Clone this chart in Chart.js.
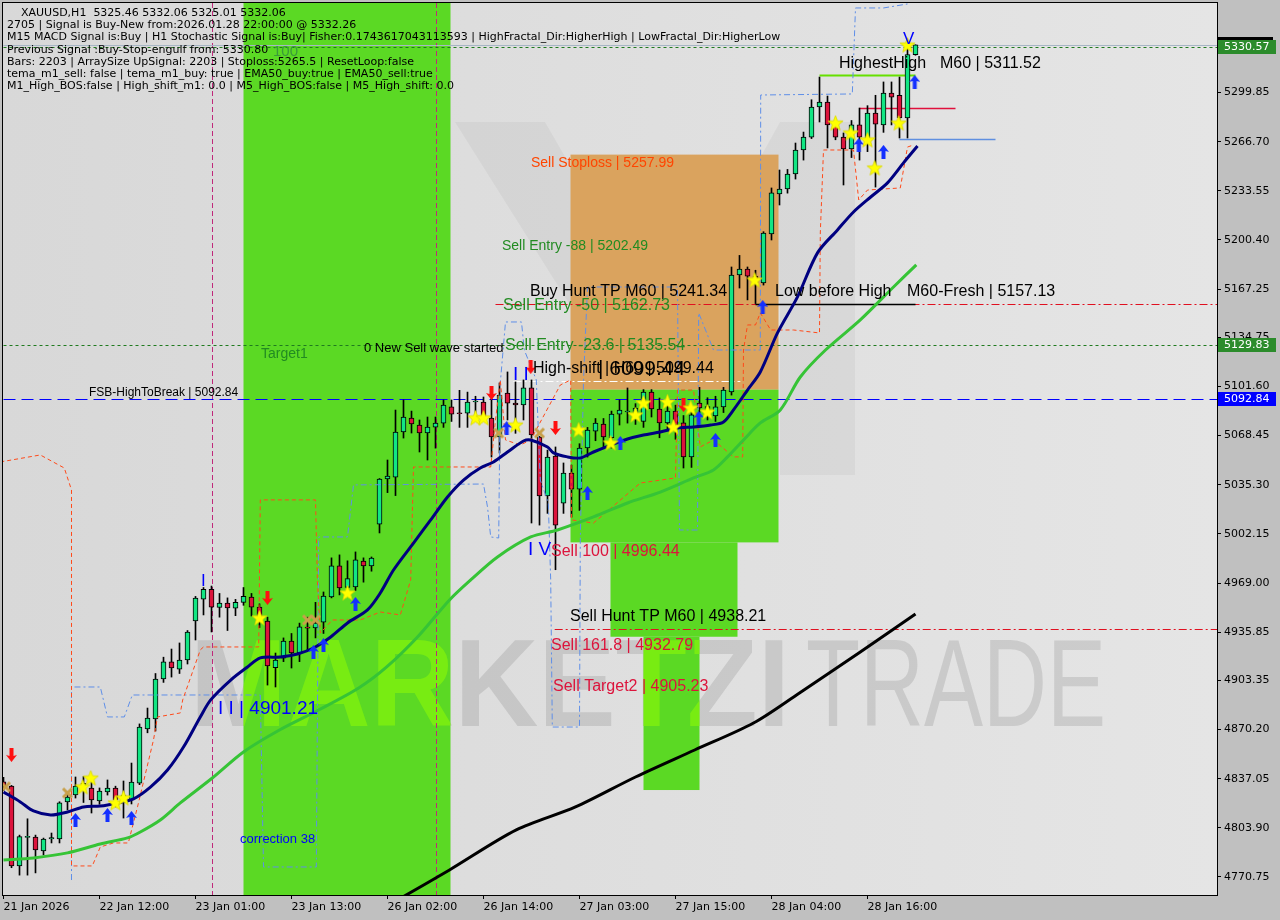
<!DOCTYPE html>
<html>
<head>
<meta charset="utf-8">
<script src="https://cdn.jsdelivr.net/npm/chart.js@4/dist/chart.umd.min.js"></script>
<style>
  html, body { margin: 0; padding: 0; background: #c0c0c0; overflow: hidden; }
</style>
</head>
<body>
<canvas id="chart" width="1280" height="920"></canvas>
<script>
// ===============================
// DATA
// ===============================
const xLabels = ["21 Jan 2026", "22 Jan 12:00", "23 Jan 01:00", "23 Jan 13:00", "26 Jan 02:00",
                 "26 Jan 14:00", "27 Jan 03:00", "27 Jan 15:00", "28 Jan 04:00", "28 Jan 16:00"];
const xTickIdx = [0, 12, 24, 36, 48, 60, 72, 84, 96, 108];
const yTicks = [5299.85, 5266.70, 5233.55, 5200.40, 5167.25, 5134.75, 5101.60, 5068.45, 5035.30,
                5002.15, 4969.00, 4935.85, 4903.35, 4870.20, 4837.05, 4803.90, 4770.75];

const opens = [4835, 4832.1, 4778.2, 4797.5, 4797.7, 4788.3, 4796.5, 4796.4, 4821.3, 4826.1,
  4832, 4830.8, 4822.0, 4828.1, 4830.8, 4822, 4822.7, 4834.1, 4870.6, 4877.3,
  4904.3, 4915.8, 4911, 4917.2, 4943.4, 4958.2, 4964.8, 4952.5, 4955.5, 4952,
  4956, 4959.6, 4952.8, 4943.4, 4912, 4918.4, 4929.9, 4921.8, 4939, 4938.7,
  4942.7, 4959.6, 4980.6, 4966, 4966.4, 4983.9, 4980.6, 5008.8, 5039.2, 5040.5,
  5070.9, 5080.3, 5075.6, 5070.2, 5074.2, 5076.9, 5087.8, 5083.6, 5083.6, 5091.1,
  5091.1, 5080.3, 5067.5, 5097.2, 5090.4, 5089.1, 5100.6, 5067.5, 5027.7, 5054.7,
  5022.9, 5043.2, 5032.4, 5060.1, 5071.5, 5076.3, 5067, 5083, 5084.4, 5079,
  5078, 5097.9, 5086.4, 5077, 5085, 5077, 5054, 5090.4, 5083, 5081.7,
  5087.8, 5098, 5176.8, 5180.8, 5176, 5171.4, 5204.5, 5231.5, 5234.8, 5244.9,
  5261.1, 5269.8, 5290.1, 5293.5, 5278, 5269.8, 5261.8, 5278, 5269, 5286,
  5278, 5299.5, 5298, 5282.7, 5325.46];
const highs = [4838, 4832.5, 4799, 4810, 4799, 4797, 4800.4, 4821.5, 4828, 4838.2,
  4838.5, 4836.2, 4830.8, 4836.2, 4832, 4835.5, 4847.6, 4874, 4884.7, 4908,
  4919, 4924.5, 4928.6, 4937, 4960, 4966, 4967, 4962, 4959, 4958,
  4966, 4962, 4955, 4946, 4921.8, 4932, 4935, 4942, 4946, 4956,
  4963, 4986, 4988, 4984, 4990, 4986, 4986.6, 5039.5, 5052, 5085.7,
  5092.5, 5085, 5079, 5081, 5081, 5092.5, 5092.5, 5099, 5097.8, 5095,
  5094.5, 5094.5, 5104, 5111.4, 5104.7, 5106, 5106, 5068, 5058.7, 5060.8,
  5050, 5048.6, 5063, 5074, 5080, 5080, 5085, 5092.5, 5100.6, 5090,
  5099.5, 5099.5, 5093.8, 5090.5, 5089, 5082, 5085, 5101, 5094, 5095,
  5101, 5182.2, 5190, 5182.2, 5180, 5206, 5235.5, 5247.6, 5248, 5265.8,
  5273.2, 5295, 5310.3, 5297.5, 5281, 5272.6, 5281, 5289.4, 5291, 5298,
  5307, 5307, 5310.3, 5332, 5332.06];
const lows = [4829, 4777, 4772, 4772, 4773.5, 4785.6, 4793.7, 4793.7, 4816, 4824,
  4821, 4813.9, 4819.8, 4826, 4818, 4810.5, 4820, 4833, 4868, 4869.2,
  4902, 4905.6, 4908, 4914.4, 4930.6, 4947.5, 4936, 4946, 4937, 4947,
  4954, 4946.8, 4939, 4900.2, 4898.9, 4916, 4911.7, 4916, 4924, 4932,
  4935, 4959, 4961, 4963, 4964, 4969.6, 4977, 5002.8, 5030, 5028,
  5066.8, 5070.2, 5057.4, 5052, 5060, 5074, 5078, 5074, 5074, 5083,
  5079, 5054, 5056.7, 5079, 5070, 5079, 5009.5, 5008.1, 5016, 4978,
  5016, 5013.5, 5018, 5054, 5065, 5060, 5060, 5075.6, 5076.9, 5076,
  5074, 5081, 5067, 5073, 5066, 5046.6, 5047, 5084, 5079, 5078,
  5084, 5095.8, 5168, 5160, 5157.5, 5170, 5200.4, 5224, 5232, 5241.5,
  5254.3, 5268.8, 5280, 5262.5, 5268, 5237.5, 5256, 5254.3, 5260, 5236.1,
  5273, 5278, 5269.2, 5269.2, 5325.01];
const closes = [4832, 4778.2, 4798.0, 4797.8, 4789.0, 4796.4, 4797.3, 4820.7, 4824.7, 4832.1,
  4834, 4822.7, 4828.7, 4830.8, 4822.7, 4826, 4834.8, 4871.9, 4878.0, 4904.3,
  4915.8, 4911.7, 4917, 4936.0, 4958.9, 4964.8, 4952.8, 4955.5, 4952.2, 4956,
  4960, 4952.8, 4946, 4913.1, 4917, 4929.9, 4921.8, 4939.4, 4938.6, 4942,
  4960.3, 4980.6, 4965.7, 4972, 4984.6, 4980.6, 4985.9, 5039.2, 5041.2, 5070.9,
  5081.0, 5076.3, 5070.2, 5074.2, 5076.9, 5089.0, 5083.0, 5083.2, 5091.1, 5091.5,
  5081.0, 5067.5, 5095.8, 5090.4, 5089.1, 5100.6, 5068.9, 5027.7, 5054.0, 5008.1,
  5043.2, 5032.4, 5060.1, 5072.2, 5076.9, 5067.5, 5083, 5085.7, 5084.8, 5087,
  5097.9, 5086.4, 5077, 5085, 5075.6, 5054, 5082.4, 5087.1, 5088, 5087.8,
  5099.2, 5176.8, 5180.8, 5176, 5171.4, 5205.1, 5232.2, 5234.8, 5244.9, 5261.1,
  5269.8, 5290.1, 5293.5, 5278, 5269.8, 5261.8, 5278, 5269.8, 5286, 5278.6,
  5299.5, 5296.8, 5282.7, 5325.5, 5332.06];

// moving averages [bar, price]
const emaNavy = [[0,4828.1],[2.1,4821.4],[3.75,4815.3],[5.9,4812.6],[8,4814.6],[10,4818.0],[12.1,4818.6],
  [14.25,4820.7],[16.25,4823.4],[18.4,4831.5],[20.5,4842.9],[22.5,4858.4],[24.6,4878.7],[25.9,4890.2],
  [28.4,4903.6],[30.5,4912.4],[32.1,4918.5],[34.6,4919.1],[36.75,4921.2],[38.75,4925.2],[40.9,4932.6],
  [43,4942.1],[45.5,4950.9],[47.1,4962.3],[48.75,4977.8],[51.25,4996.0],[53.4,5011.6],[55.5,5027.1],
  [57.5,5038.5],[59.6,5046.6],[61.25,5050.7],[63,5057.4],[65,5064.8],[65.9,5065.5],[68,5060.8],
  [68.75,5056.8],[70.5,5054.1],[72.1,5053.4],[73.75,5057.4],[75.9,5062.1],[78,5066.2],[80,5068.9],
  [82.1,5070.9],[84.25,5073.6],[86.25,5074.3],[88.4,5075.6],[90,5077.7],[91.25,5085.8],[93,5099.2],
  [94.6,5111.4],[96.75,5137.7],[99.25,5162.0],[101.75,5191.7],[104.25,5207.2],[106.25,5219.3],
  [108.4,5229.4],[110.5,5238.9],[112.5,5252.4],[114.25,5263.8]];
const emaGreen = [[0,4782.2],[3.75,4783.6],[8,4787.0],[12.1,4793.0],[15.5,4797.1],[17.1,4801.1],[19.6,4809.2],
  [22.1,4820.7],[26.1,4837.5],[30,4855.1],[34.5,4869.9],[39.4,4883.4],[44.4,4898.2],[47.9,4912.4],
  [51.75,4932.6],[55.75,4957.6],[58.4,4971.1],[61.75,4986.6],[65.9,5000.1],[69.25,5004.8],[73.75,5013.6],
  [78,5023.0],[82.1,5030.4],[86.25,5039.9],[88.75,5045.3],[90.5,5054.1],[92.5,5065.5],[94.6,5077.0],
  [97.1,5085.8],[99.6,5108.0],[102.75,5126.2],[107.1,5146.5],[111.25,5168.7],[114.1,5183.6]];
const emaBlack = [[49.5,4756],[55.75,4775.5],[64.1,4802.5],[71.5,4818.0],[79,4838.2],[86.4,4856.4],
  [93.75,4874.6],[99.5,4894.9],[107.1,4922.5],[114,4948.2]];

// stepped fractal trails [bar, price]
const redTrail = [[-0.4,5050.7],[4.6,5055.4],[7.6,5046.6],[8.5,5031.8],[8.5,4778.2],[11.1,4778.2],[12.1,4791.0],
  [13.75,4793.7],[15.6,4793.7],[16.75,4818.0],[18.75,4863.2],[19.25,4878.7],[22.1,4881.4],[22.4,4890.2],
  [24.6,4923.9],[25,4925.9],[31.9,4925.9],[32.1,5025.1],[39,5025.1],[39.25,4969.1],[39.6,4935.3],
  [41.1,4944.1],[44.6,4944.1],[47.1,4949.5],[49.6,4947.5],[50.9,4971.1],[51.25,5047.3],[60.9,5047.3],
  [61.5,5079.0],[62.1,5106.0],[62.75,5065.5],[64.6,5062.1],[65.9,5065.5],[69.6,5102.6],[70.9,5106.0],
  [71,5011.6],[73.75,5009.5],[79.6,5036.5],[84,5039.9],[84.25,5099.2],[86.25,5099.2],[87.1,5060.8],
  [88.75,5065.5],[91.25,5054.1],[92.4,5054.1],[92.5,5126.2],[93,5143.1],[94,5143.1],[94.6,5151.2],
  [95.9,5139.7],[98.75,5139.7],[102,5137.7],[102.1,5205.1],[102.5,5261.1],[106.25,5261.1],[106.9,5227.4],
  [108,5234.1],[112.1,5235.5],[113,5263.1],[113.75,5264.5]];
const blueTrail = [[8.5,4768.7],[8.5,4898.9],[12.1,4898.9],[13,4878.7],[15.1,4878.7],[16.1,4893.5],[32.1,4893.5],
  [32.5,4777.5],[39.1,4777.5],[39.4,5000.1],[43,5000.1],[43.75,5035.2],[60,5035.8],[60.5,5020.3],
  [60.9,5000.1],[61.9,4999.4],[62.1,5104.0],[62.75,5145.1],[64.75,5145.1],[65.1,5126.2],[66.6,5106.0],
  [67.1,5038.5],[68.1,5023.0],[68.4,4971.1],[68.6,4871.9],[72,4871.9],[72.1,4998.1],[72.5,5106.0],
  [73,5168.7],[84.25,5168.7],[84.5,5004.8],[86.75,5004.8],[86.9,5151.2],[88.75,5126.2],[94.6,5126.2],
  [94.65,5298.2],[106.1,5298.9],[106.5,5356.9],[110,5356.9],[113,5359.6]];

// signal marks [bar, price]
const stars = [[9.9,4831.5],[10.9,4837.5],[14,4820.7],[15,4824.1],[32,4945.5],[43,4962.3],[59,5080.4],
  [60,5080.4],[64,5075.6],[71.9,5072.3],[75.9,5063.5],[79,5082.4],[80,5090.5],[83,5091.2],[83.75,5074.3],
  [85.9,5087.1],[88,5084.4],[93.9,5173.4],[104,5279.3],[105.9,5272.6],[108,5267.9],[108.9,5249.0],
  [111.9,5279.3],[113,5331.9]];
const upArrows = [[9,4809.2],[13,4812.6],[16,4810.6],[38.75,4922.5],[40,4927.2],[44,4954.9],[62.9,5073.6],
  [73,5029.8],[77.1,5063.5],[86.9,5080.4],[89,5065.5],[94.9,5155.2],[106.9,5264.5],[110,5259.8],[113.9,5307.0]];
const downArrows = [[1,4853.1],[33,4959.0],[61,5097.2],[65.9,5114.8],[69,5073.6],[85,5089.1]];
const crosses = [[0.25,4831.5],[8,4827.4],[38,4944.1],[39,4944.1],[61.9,5070.2],[67,5070.2]];

// zones [fromBar, toBar, lowPrice, highPrice]
const greenZones = [[30, 55.875, 4700, 5400], [70.875, 96.875, 4996.44, 5099.44],
                    [75.875, 91.75, 4932.79, 4996.44], [80, 87, 4829.4, 4932.79]];
const stopZone = [70.875, 96.875, 5099.44, 5257.99];

// horizontal levels [price, fromBar, toBar]
const levels = [[5332.06, 0, 152], [5330.57, 0, 152], [5129.83, 0, 152], [5092.84, 0, 152],
  [5157.13, 61.5, 152], [4938.21, 68.9, 152], [5105.3, 63.75, 92.1], [5157.13, 94, 114],
  [5311.52, 102, 114], [5289.2, 107, 119], [5268.3, 112, 124]];
const vLines = [26, 54];

// ===============================
// STYLES
// ===============================
const UP = "#12e683", DOWN = "#dc143c";
const levelStyle = [
  { c: "#a6b6c4", w: 1, d: [] },
  { c: "#1f7a1f", w: 1, d: [3, 3] },
  { c: "#1f7a1f", w: 1, d: [3, 3] },
  { c: "#0000ff", w: 1, d: [12, 6] },
  { c: "#e01020", w: 1, d: [8, 3, 2, 3] },
  { c: "#e01020", w: 1, d: [8, 3, 2, 3] },
  { c: "#ffffff", w: 1, d: [8, 3, 2, 3] },
  { c: "#000000", w: 1.5, d: [] },
  { c: "#66e000", w: 2, d: [] },
  { c: "#e0103c", w: 1.5, d: [] },
  { c: "#5f8fe0", w: 1.5, d: [] }
];
const infoLines = [
  [21, 13, "XAUUSD,H1  5325.46 5332.06 5325.01 5332.06"],
  [7, 25, "2705 | Signal is Buy-New from:2026.01.28 22:00:00 @ 5332.26"],
  [7, 37.5, "M15 MACD Signal is:Buy | H1 Stochastic Signal is:Buy| Fisher:0.1743617043113593 | HighFractal_Dir:HigherHigh | LowFractal_Dir:HigherLow"],
  [7, 50, "Previous Signal :Buy-Stop-engulf from: 5330.80"],
  [7, 62, "Bars: 2203 | ArraySize UpSignal: 2203 | Stoploss:5265.5 | ResetLoop:false"],
  [7, 74, "tema_m1_sell: false | tema_m1_buy: true | EMA50_buy:true | EMA50_sell:true"],
  [7, 86, "M1_High_BOS:false | High_shift_m1: 0.0 | M5_High_BOS:false | M5_High_shift: 0.0"]
];
const notes = [
  ["Sell Stoploss | 5257.99", 531, 163, 14, "#ff4500"],
  ["Sell Entry -88 | 5202.49", 502, 246, 14, "#228b22"],
  ["Buy Hunt TP M60 | 5241.34", 530, 292, 16, "#000"],
  ["Sell Entry -50 | 5162.73", 503, 306, 16, "#228b22"],
  ["Sell Entry -23.6 | 5135.54", 505, 346, 16, "#228b22"],
  ["0 New Sell wave started", 364, 348, 13, "#000"],
  ["Target1", 261, 354, 14, "#228b22"],
  ["FSB-HighToBreak | 5092.84", 89, 393, 12, "#000"],
  ["High-shift | H60 | 5099.44", 533, 369, 16, "#000"],
  ["| 6099.44", 598, 369, 21, "#000"],
  ["100", 273, 52, 15, "#3a9a3a"],
  ["HighestHigh", 839, 64, 16, "#000"],
  ["M60 | 5311.52", 940, 64, 16, "#000"],
  ["Low before High", 775, 292, 16, "#000"],
  ["M60-Fresh | 5157.13", 907, 292, 16, "#000"],
  ["Sell 100 | 4996.44", 551, 552, 16, "#dc143c"],
  ["Sell Hunt TP M60 | 4938.21", 570, 617, 16, "#000"],
  ["Sell 161.8 | 4932.79", 551, 646, 16, "#dc143c"],
  ["Sell Target2 | 4905.23", 553, 687, 16, "#dc143c"],
  ["I I | 4901.21", 218, 709, 19, "#0000ff"],
  ["correction 38", 240, 839, 13, "#0000ff"],
  ["I V", 528, 550, 19, "#0000ff"],
  ["I I", 513, 375, 19, "#0000ff"],
  ["V", 903, 39, 17, "#0000ff"],
  ["I", 201, 581, 17, "#0000ff"]
];
const priceTags = [[5330.57, "#2c8c2c"], [5129.83, "#2c8c2c"], [5092.84, "#0000ff"]];

// ===============================
// MARKER IMAGES
// ===============================
function starImg() {
  const c = document.createElement("canvas"); c.width = c.height = 17;
  const g = c.getContext("2d");
  g.beginPath();
  for (let k = 0; k < 10; k++) {
    const r = k % 2 ? 3.4 : 8, a = -Math.PI / 2 + k * Math.PI / 5;
    g.lineTo(8.5 + r * Math.cos(a), 9 + r * Math.sin(a));
  }
  g.closePath(); g.fillStyle = "#ffff00"; g.fill();
  g.strokeStyle = "#d8d800"; g.lineWidth = 0.8; g.stroke();
  return c;
}
function arrowImg(color, down) {
  const c = document.createElement("canvas"); c.width = 11; c.height = 14;
  const g = c.getContext("2d");
  if (down) { g.translate(0, 14); g.scale(1, -1); }
  g.fillStyle = color;
  g.beginPath(); g.moveTo(5.5, 0); g.lineTo(11, 7); g.lineTo(7.5, 6); g.lineTo(7.5, 14);
  g.lineTo(3.5, 14); g.lineTo(3.5, 6); g.lineTo(0, 7); g.closePath(); g.fill();
  return c;
}
function crossImg() {
  const c = document.createElement("canvas"); c.width = c.height = 13;
  const g = c.getContext("2d");
  g.strokeStyle = "#c8a04a"; g.lineWidth = 3;
  g.beginPath(); g.moveTo(2, 2); g.lineTo(11, 11); g.moveTo(11, 2); g.lineTo(2, 11); g.stroke();
  return c;
}

// ===============================
// BACKGROUND / OVERLAY PLUGIN
// ===============================
const mtPlugin = {
  id: "mt",
  beforeDraw(chart) {
    const { ctx, chartArea: a, scales: { x, y } } = chart;
    const X = v => x.getPixelForValue(v), Y = v => y.getPixelForValue(v);
    ctx.save();
    ctx.fillStyle = "#c0c0c0"; ctx.fillRect(0, 0, chart.width, chart.height);
    ctx.beginPath(); ctx.rect(a.left, a.top, a.width, a.height); ctx.clip();
    const bg = ctx.createLinearGradient(a.left, 0, a.right, 0);
    bg.addColorStop(0, "#d8d8d8"); bg.addColorStop(1, "#e5e5e5");
    ctx.fillStyle = bg; ctx.fillRect(a.left, a.top, a.width, a.height);

    // faint logo shape
    ctx.fillStyle = "rgba(0,0,0,0.04)";
    ctx.beginPath();
    [[455,122],[545,122],[665,330],[780,122],[855,122],[855,475],[780,475],[780,300],[700,440],[655,440]]
      .forEach(([px, py], k) => k ? ctx.lineTo(px, py) : ctx.moveTo(px, py));
    ctx.closePath(); ctx.fill();

    // watermark (grey part)
    const wm = () => {
      ctx.textBaseline = "alphabetic"; ctx.textAlign = "left";
      ctx.font = "bold 124px 'Liberation Sans'"; ctx.fillText("MARKETZI", 190, 726, 600);
      ctx.font = "124px 'Liberation Sans'"; ctx.fillText("TRADE", 806, 726, 300);
    };
    ctx.fillStyle = "rgba(120,120,120,0.22)"; wm();

    // zones
    ctx.fillStyle = "#daa35e";
    ctx.fillRect(X(stopZone[0]), Y(stopZone[3]), X(stopZone[1]) - X(stopZone[0]), Y(stopZone[2]) - Y(stopZone[3]));
    ctx.fillStyle = "#5bd924";
    greenZones.forEach(z => ctx.fillRect(X(z[0]), Y(z[3]), X(z[1]) - X(z[0]), Y(z[2]) - Y(z[3])));

    // watermark lighter over the green zones
    ctx.save();
    ctx.beginPath();
    greenZones.forEach(z => ctx.rect(X(z[0]), Y(z[3]), X(z[1]) - X(z[0]), Y(z[2]) - Y(z[3])));
    ctx.clip();
    ctx.fillStyle = "rgba(150,255,0,0.5)"; wm();
    ctx.restore();

    // vertical separators
    ctx.strokeStyle = "#c0287a"; ctx.lineWidth = 1; ctx.setLineDash([5, 3]);
    vLines.forEach(v => { const px = Math.round(X(v)) + 0.5; ctx.beginPath(); ctx.moveTo(px, a.top); ctx.lineTo(px, a.bottom); ctx.stroke(); });

    // horizontal levels
    levels.forEach((l, k) => {
      const s = levelStyle[k], py = Math.round(Y(l[0])) + 0.5;
      ctx.strokeStyle = s.c; ctx.lineWidth = s.w; ctx.setLineDash(s.d);
      ctx.beginPath(); ctx.moveTo(X(l[1]), py); ctx.lineTo(Math.min(X(l[2]), a.right), py); ctx.stroke();
    });
    ctx.restore();
  },
  afterDatasetsDraw(chart) {
    const { ctx, chartArea: a } = chart;
    ctx.save();
    ctx.beginPath(); ctx.rect(a.left, a.top, a.width, a.height); ctx.clip();
    ctx.textBaseline = "middle"; ctx.textAlign = "left";
    notes.forEach(([t, px, py, sz, col]) => {
      ctx.font = sz + "px 'Liberation Sans'"; ctx.fillStyle = col; ctx.fillText(t, px, py);
    });
    ctx.font = "11px 'DejaVu Sans'"; ctx.fillStyle = "#000";
    infoLines.forEach(([px, py, t]) => ctx.fillText(t, px, py));
    ctx.restore();
  },
  afterDraw(chart) {
    const { ctx, chartArea: a, scales: { y } } = chart;
    ctx.save();
    ctx.strokeStyle = "#000"; ctx.lineWidth = 1; ctx.setLineDash([]);
    ctx.strokeRect(a.left - 0.5, a.top - 0.5, a.width + 1, a.height + 1);
    ctx.fillStyle = "#000"; ctx.fillRect(a.right + 1, y.getPixelForValue(5330.57) - 10, 55, 3);
    ctx.font = "11px 'DejaVu Sans'"; ctx.textBaseline = "middle"; ctx.textAlign = "left";
    priceTags.forEach(([p, col]) => {
      const py = Math.round(y.getPixelForValue(p));
      ctx.fillStyle = col; ctx.fillRect(a.right + 1, py - 7, 58, 14);
      ctx.fillStyle = "#fff"; ctx.fillText(p.toFixed(2), a.right + 7, py + 0.5);
    });
    ctx.restore();
  }
};

// ===============================
// CHART
// ===============================
const pts = arr => arr.map(([x, y]) => ({ x, y }));
const idx = opens.map((_, i) => i);
const lineDs = (data, color, width, extra) => Object.assign({
  type: "line", data: pts(data), borderColor: color, borderWidth: width,
  pointRadius: 0, tension: 0, fill: false
}, extra || {});
const markDs = (data, img) => ({
  type: "line", data: pts(data), showLine: false, pointStyle: img, pointRadius: 8, order: 0
});

new Chart(document.getElementById("chart"), {
  type: "bar",
  data: {
    datasets: [
      { type: "bar", data: idx.map(i => ({ x: i, y: [lows[i], highs[i]] })), backgroundColor: "#000",
        barThickness: 1, grouped: false, order: 6 },
      { type: "bar", data: idx.map(i => ({ x: i, y: [opens[i], closes[i]] })),
        backgroundColor: idx.map(i => closes[i] >= opens[i] ? UP : DOWN),
        borderColor: "#000", borderWidth: 1, borderSkipped: false, barThickness: 5,
        minBarLength: 1, grouped: false, order: 5 },
      lineDs(redTrail, "#ff4a1a", 1, { borderDash: [4, 3], order: 4 }),
      lineDs(blueTrail, "#5f8fe8", 1, { borderDash: [6, 3, 2, 3], order: 4 }),
      lineDs(emaBlack, "#000000", 3, { tension: 0.3, order: 3 }),
      lineDs(emaGreen, "#36c436", 3, { tension: 0.3, order: 2 }),
      lineDs(emaNavy, "#000080", 3, { tension: 0.3, order: 1 }),
      markDs(stars, starImg()),
      markDs(upArrows, arrowImg("#1430ff", false)),
      markDs(downArrows, arrowImg("#ff1010", true)),
      markDs(crosses, crossImg())
    ]
  },
  options: {
    responsive: false, animation: false, devicePixelRatio: 1, events: [],
    layout: { autoPadding: false, padding: { left: 3, top: 3, right: 0, bottom: 0 } },
    plugins: { legend: { display: false }, tooltip: { enabled: false } },
    scales: {
      x: {
        type: "linear", min: -0.0625, max: 151.6875, offset: false,
        afterFit: s => { s.height = 25; s.paddingLeft = 0; s.paddingRight = 0; },
        afterBuildTicks: s => { s.ticks = xTickIdx.map(v => ({ value: v })); },
        ticks: { autoSkip: false, maxRotation: 0, align: "start", padding: 2, color: "#000",
                 font: { family: "DejaVu Sans", size: 11 }, callback: (v, i) => xLabels[i] },
        grid: { drawOnChartArea: false, drawTicks: true, tickLength: 4, color: "#000", offset: false },
        border: { color: "#000" }
      },
      y: {
        type: "linear", position: "right", min: 4758.6, max: 5360.25,
        afterFit: s => { s.width = 63; s.paddingTop = 0; s.paddingBottom = 0; },
        afterBuildTicks: s => { s.ticks = yTicks.map(v => ({ value: v })); },
        ticks: { padding: 3, color: "#000", font: { family: "DejaVu Sans", size: 11 },
                 callback: v => Number(v).toFixed(2) },
        grid: { drawOnChartArea: false, drawTicks: true, tickLength: 4, color: "#000" },
        border: { color: "#000" }
      }
    }
  },
  plugins: [mtPlugin]
});
</script>
</body>
</html>
